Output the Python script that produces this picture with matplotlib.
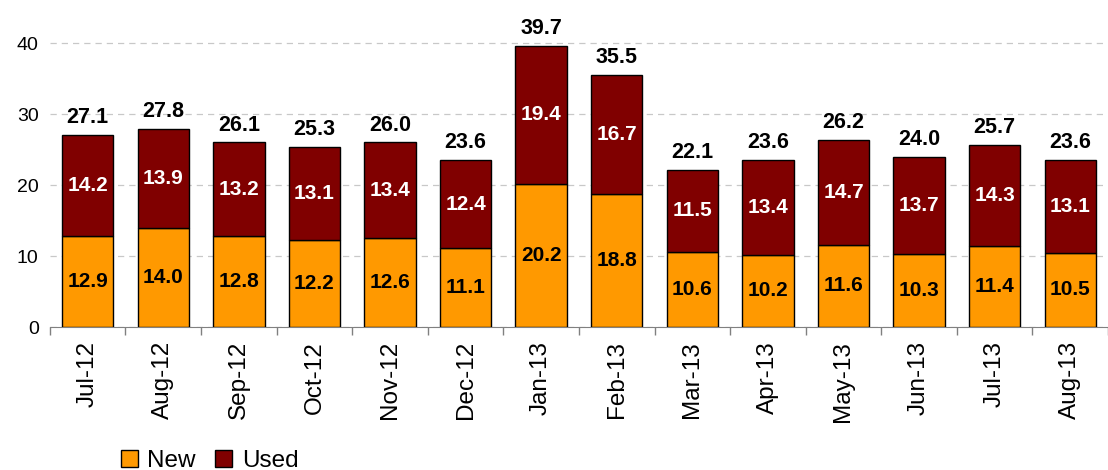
import numpy as np
import matplotlib.pyplot as plt
from matplotlib.ticker import FixedLocator

months = ["Jul-12", "Aug-12", "Sep-12", "Oct-12", "Nov-12", "Dec-12", "Jan-13",
          "Feb-13", "Mar-13", "Apr-13", "May-13", "Jun-13", "Jul-13", "Aug-13"]
new = [12.9, 14.0, 12.8, 12.2, 12.6, 11.1, 20.2, 18.8, 10.6, 10.2, 11.6, 10.3, 11.4, 10.5]
used = [14.2, 13.9, 13.2, 13.1, 13.4, 12.4, 19.4, 16.7, 11.5, 13.4, 14.7, 13.7, 14.3, 13.1]
totals = [27.1, 27.8, 26.1, 25.3, 26.0, 23.6, 39.7, 35.5, 22.1, 23.6, 26.2, 24.0, 25.7, 23.6]

plt.rcParams["font.family"] = ["Liberation Sans", "DejaVu Sans"]

fig = plt.figure(figsize=(11.08, 4.70), dpi=100)
ax = fig.add_axes([0.045, 0.304, 0.955, 0.68])

x = np.arange(len(months))
w = 0.68
b_new = ax.bar(x, new, w, color="#FF9900", edgecolor="black", linewidth=1, label="New", zorder=3)
b_used = ax.bar(x, used, w, bottom=new, color="#800000", edgecolor="black", linewidth=1,
                label="Used", zorder=3)

for i in range(len(months)):
    ax.text(x[i], new[i] / 2, f"{new[i]:.1f}", ha="center", va="center",
            fontsize=15, fontweight="bold", color="black", zorder=4)
    ax.text(x[i], new[i] + used[i] / 2, f"{used[i]:.1f}", ha="center", va="center",
            fontsize=15, fontweight="bold", color="white", zorder=4)
    ax.annotate(f"{totals[i]:.1f}", (x[i], new[i] + used[i]), xytext=(0, 5),
                textcoords="offset points", ha="center", va="bottom",
                fontsize=15.5, fontweight="bold", color="black")

ax.set_xlim(-0.5, len(months) - 0.5)
ax.set_ylim(0, 45)
ax.set_yticks([0, 10, 20, 30, 40])
ax.tick_params(axis="y", length=0, labelsize=14, pad=8)
ax.yaxis.grid(True, linestyle=(0, (5, 4)), color="#C8C8C8", linewidth=0.9, zorder=0)

ax.set_xticks(x)
ax.set_xticklabels(months, rotation=90, fontsize=17.5)
ax.tick_params(axis="x", which="major", length=0, pad=10)
ax.xaxis.set_minor_locator(FixedLocator(np.arange(-0.5, len(months), 1.0)))
ax.tick_params(axis="x", which="minor", length=6, color="#808080", width=1)

for s in ["top", "right", "left"]:
    ax.spines[s].set_visible(False)
ax.spines["bottom"].set_color("#808080")

fig.legend(handles=[b_new, b_used], loc="lower left", bbox_to_anchor=(0.098, -0.03),
           frameon=False, fontsize=17.5, handlelength=0.7, handleheight=0.7,
           handletextpad=0.4, columnspacing=0.8, ncol=2, borderpad=0)

fig.savefig("out.png", dpi=100)
